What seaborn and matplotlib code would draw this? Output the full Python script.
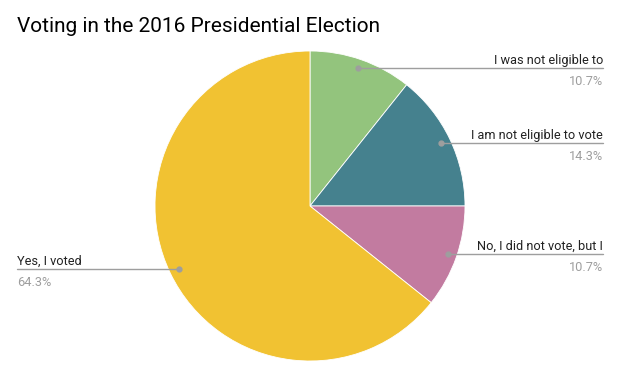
import numpy as np
import matplotlib.pyplot as plt
import seaborn as sns

# Survey responses (counts out of 28)
labels = ['I was not eligible to', 'I am not eligible to vote',
          'No, I did not vote, but I', 'Yes, I voted']
counts = [3, 4, 3, 18]
colors = ['#93c47d', '#45818e', '#c27ba0', '#f1c232']

sns.set_style('white')
plt.rcParams['font.family'] = ['Roboto', 'DejaVu Sans']

W, H = 634, 391
fig = plt.figure(figsize=(W / 100, H / 100), dpi=100)
ax = fig.add_axes([0, 0, 1, 1])

cx, cy, r = 310, H - 206, 155
wedges, _ = ax.pie(counts, colors=colors, startangle=90, counterclock=False,
                   center=(cx, cy), radius=r, frame=True,
                   wedgeprops=dict(edgecolor='white', linewidth=0.6))
ax.set_xlim(0, W)
ax.set_ylim(0, H)
ax.set_aspect('equal')
ax.axis('off')

total = sum(counts)
for w, lab, c in zip(wedges, labels, counts):
    ang = np.deg2rad((w.theta1 + w.theta2) / 2)
    px = cx + 0.94 * r * np.cos(ang)
    py = cy + 0.94 * r * np.sin(ang)
    pct = f'{100 * c / total:.1f}%'
    if px >= cx:
        x_end, ha = 603, 'right'
    else:
        x_end, ha = 17, 'left'
    ax.plot([px, x_end], [py, py], color='#9e9e9e', lw=1)
    ax.plot(px, py, 'o', color='#9e9e9e', ms=3.5)
    ax.text(x_end, py + 4, lab, ha=ha, va='baseline', fontsize=9.2, color='#222222')
    ax.text(x_end, py - 7, pct, ha=ha, va='top', fontsize=9.2, color='#9e9e9e')

fig.text(17 / W, 1 - 27 / H, 'Voting in the 2016 Presidential Election',
         ha='left', va='center', fontsize=15, color='#000000')

fig.savefig('out.png', dpi=100)
